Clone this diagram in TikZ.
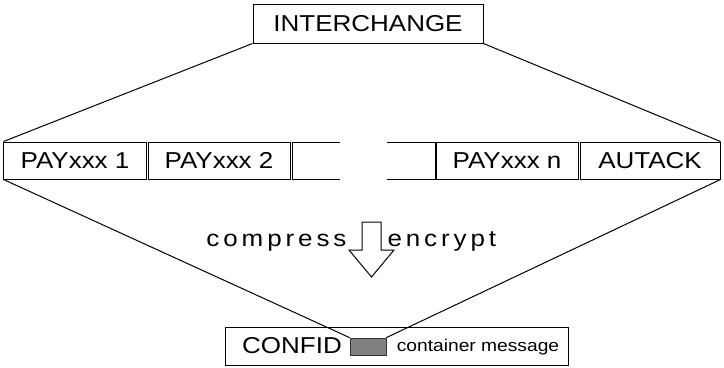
\documentclass[tikz,border=0pt]{standalone}
\usepackage{fontspec}
\setmainfont[FakeStretch=1.13]{Liberation Sans}
\begin{document}
\begin{tikzpicture}[x=1bp,y=-1bp,line width=1bp,
  big/.style={font=\fontsize{23bp}{27bp}\selectfont},
  box/.style={draw, rectangle, inner sep=0pt, minimum height=37bp, big},
  spaced/.style={anchor=base, inner sep=0pt, font=\fontsize{23bp}{27bp}\selectfont\addfontfeature{LetterSpace=17}},
  small/.style={font=\fontsize{17bp}{20bp}\selectfont, inner sep=0pt},
  graybox/.style={draw=black!80, fill=black!50, line width=0.8bp, inner sep=0pt, minimum width=36bp, minimum height=17bp}]
\useasboundingbox (0,0) rectangle (724,367);
% top
\node[box, minimum width=230bp, minimum height=39bp] (ic) at (368,23.5) {INTERCHANGE};
% row
\node[box, minimum width=142bp] (p1) at (75,160.5) {PAYxxx 1};
\node[box, minimum width=142bp] (p2) at (219,160.5) {PAYxxx 2};
\node[box, minimum width=142bp] (pn) at (507,160.5) {PAYxxx n};
\node[box, minimum width=140bp] (au) at (650,160.5) {AUTACK};
% open boxes
\coordinate (oa1) at (340,142);
\coordinate (oa2) at (292,142);
\coordinate (oa3) at (292,179);
\coordinate (oa4) at (340,179);
\draw (oa1) -- (oa2) -- (oa3) -- (oa4);
\coordinate (ob1) at (387,142);
\coordinate (ob2) at (435,142);
\coordinate (ob3) at (435,179);
\coordinate (ob4) at (387,179);
\draw (ob1) -- (ob2) -- (ob3) -- (ob4);
% arrow
\node[spaced, anchor=base east] (cmp) at (347,246) {compress};
\node[spaced, anchor=base west] (enc) at (387,246) {encrypt};
\draw (362,222) -- (381,222) -- (381,250) -- (394,250) -- (371.5,277) -- (349,250) -- (362,250) -- cycle;
% bottom
\node[draw, rectangle, inner sep=0pt, minimum width=343bp, minimum height=38bp] (cf) at (396.5,346) {};
\node[big, inner sep=0pt] (cft) at (292,346) {CONFID};
\node[graybox] (g) at (368,346.5) {};
\node[small] (cm) at (478,347) {container message};
% connectors
\draw (ic.south west) -- (p1.north west);
\draw (ic.south east) -- (au.north east);
\draw (p1.south west) -- (g.north west);
\draw (au.south east) -- (g.north east);
\end{tikzpicture}
\end{document}
